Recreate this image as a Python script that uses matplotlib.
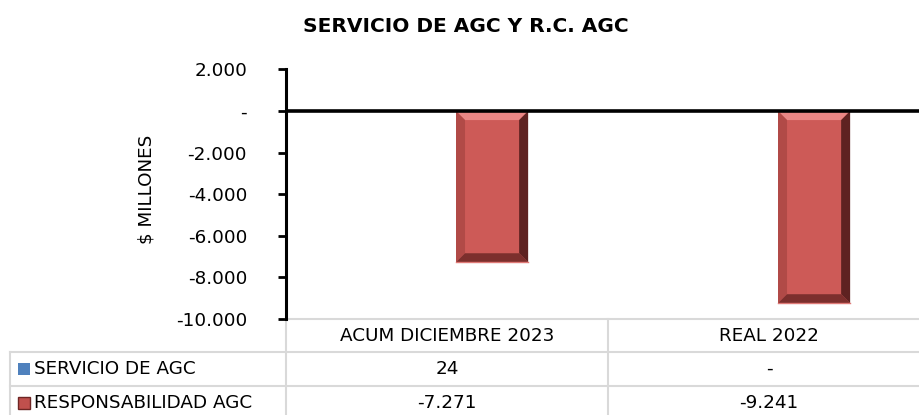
import matplotlib
matplotlib.use('Agg')
import numpy as np
import matplotlib.pyplot as plt
from matplotlib.patches import Polygon, Rectangle
from matplotlib.transforms import blended_transform_factory

# datos
categorias = ['ACUM DICIEMBRE 2023', 'REAL 2022']
series = ['SERVICIO DE AGC', 'RESPONSABILIDAD AGC']
servicio_agc = [24, 0]
responsabilidad_agc = [-7271, -9241]
tabla_servicio = ['24', '-']
tabla_resp = ['-7.271', '-9.241']
y_ticks = [-10000, -8000, -6000, -4000, -2000, 0, 2000]

W, H = 919, 415
fig = plt.figure(figsize=(W / 100, H / 100), dpi=100)
plt.rcParams['font.family'] = ['DejaVu Sans']
fs = 13.2

# area del grafico en pixeles
left, right, top, bottom = 286, 930, 69.5, 319
ax = fig.add_axes([left / W, 1 - bottom / H, (right - left) / W, (bottom - top) / H])
ax.set_xlim(-0.5, 1.5)
ax.set_ylim(-10000, 2000)
ax.set_facecolor('none')

for s in ['top', 'right', 'bottom']:
    ax.spines[s].set_visible(False)
ax.spines['left'].set_linewidth(2.2)
ax.spines['left'].set_color('black')
ax.set_xticks([])
ax.set_yticks(y_ticks)
ax.set_yticklabels(['-' if v == 0 else f'{v:,}'.replace(',', '.') for v in y_ticks],
                   fontsize=fs)
ax.tick_params(axis='y', direction='out', length=6, width=2, pad=22, colors='black')
ax.set_ylabel('$ MILLONES', fontsize=fs)
ax.yaxis.set_label_coords(-131 / (right - left), 0.52)

ax.axhline(0, color='black', lw=2.6, zorder=10)

x = np.arange(len(categorias))
ancho = 0.224
desp = 0.14

# barras
px_x = (right - left) / 2.0   # pixeles por categoria
px_y = (bottom - top) / 12000.0
bev = 9
bx = bev / px_x
by = bev / px_y


def barra_bisel(xc, val):
    x0, x1 = xc - ancho / 2, xc + ancho / 2
    y0, y1 = 0, val
    ax.add_patch(Rectangle((x0, y1), ancho, -val, facecolor='#cd5a57', edgecolor='none', zorder=3))
    # borde superior (claro)
    ax.add_patch(Polygon([(x0, y0), (x1, y0), (x1 - bx, y0 - by), (x0 + bx, y0 - by)],
                         closed=True, facecolor='#ea8785', edgecolor='none', zorder=4))
    # izquierda
    ax.add_patch(Polygon([(x0, y0), (x0 + bx, y0 - by), (x0 + bx, y1 + by), (x0, y1)],
                         closed=True, facecolor='#b14a47', edgecolor='none', zorder=4))
    # derecha (oscuro)
    ax.add_patch(Polygon([(x1, y0), (x1 - bx, y0 - by), (x1 - bx, y1 + by), (x1, y1)],
                         closed=True, facecolor='#5e2221', edgecolor='none', zorder=4))
    # abajo
    ax.add_patch(Polygon([(x0, y1), (x0 + bx, y1 + by), (x1 - bx, y1 + by), (x1, y1)],
                         closed=True, facecolor='#7c2f2d', edgecolor='none', zorder=4))
    ax.plot([x0, x1], [y1, y1], color='#e07a77', lw=1, zorder=5)


for i in range(len(categorias)):
    ax.bar(x[i] - desp, servicio_agc[i], ancho, color='#4f81bd', zorder=3)
    barra_bisel(x[i] + desp, responsabilidad_agc[i])

# tabla de datos
tr = blended_transform_factory(ax.transData, fig.transFigure)
gris = '#d9d9d9'


def fy(p):
    return 1 - p / H


filas = [319, 352, 386, 420]
# lineas horizontales
ax.plot([-0.5, 1.5], [fy(filas[0])] * 2, color=gris, lw=1.5, transform=tr, clip_on=False)
for yy in filas[1:3]:
    fig.add_artist(plt.Line2D([10 / W, 1], [fy(yy)] * 2, color=gris, lw=1.5))
# lineas verticales
fig.add_artist(plt.Line2D([10 / W] * 2, [fy(352), 0], color=gris, lw=1.5))
for xb in [-0.5, 0.5]:
    ax.plot([xb, xb], [fy(319), 0], color=gris, lw=1.5, transform=tr, clip_on=False, zorder=1)

for i, c in enumerate(categorias):
    ax.text(x[i], fy(336), c, transform=tr, ha='center', va='center', fontsize=fs, clip_on=False)
    ax.text(x[i], fy(369), tabla_servicio[i], transform=tr, ha='center', va='center',
            fontsize=fs, clip_on=False)
    ax.text(x[i], fy(402.5), tabla_resp[i], transform=tr, ha='center', va='center',
            fontsize=fs, clip_on=False)

# leyenda en la tabla
fig.add_artist(Rectangle((18 / W, fy(375)), 12 / W, 12 / H, transform=fig.transFigure,
                         facecolor='#4f81bd', edgecolor='none'))
fig.add_artist(Rectangle((18 / W, fy(408.5)), 12 / W, 12 / H, transform=fig.transFigure,
                         facecolor='#c0504d', edgecolor='#6e2624', lw=1))
fig.text(34 / W, fy(369), series[0], ha='left', va='center', fontsize=fs)
fig.text(34 / W, fy(402.5), series[1], ha='left', va='center', fontsize=fs)

fig.text(466 / W, fy(27), 'SERVICIO DE AGC Y R.C. AGC', ha='center', va='center',
         fontsize=14.5, fontweight='bold')

fig.savefig('out.png', dpi=100)
